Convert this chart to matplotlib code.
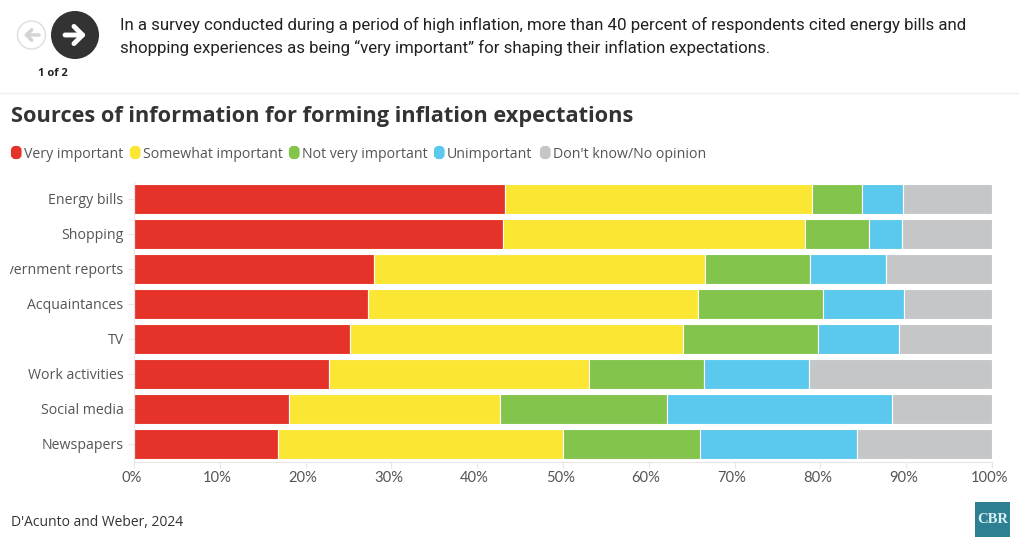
import matplotlib.pyplot as plt
from matplotlib.patches import Circle, FancyBboxPatch, Rectangle
from matplotlib.transforms import Bbox, IdentityTransform, TransformedBbox, ScaledTranslation
import numpy as np

plt.rcParams['font.family'] = ['Open Sans', 'DejaVu Sans']

categories = ['Energy bills', 'Shopping', 'Government reports', 'Acquaintances',
              'TV', 'Work activities', 'Social media', 'Newspapers']
very = [43.2, 43.0, 28.0, 27.3, 25.2, 22.7, 18.1, 16.8]
somewhat = [35.8, 35.2, 38.6, 38.4, 38.8, 30.3, 24.6, 33.2]
not_very = [5.8, 7.5, 12.2, 14.6, 15.7, 13.4, 19.4, 16.0]
unimportant = [4.8, 3.8, 8.8, 9.4, 9.5, 12.3, 26.2, 18.3]
no_opinion = [10.4, 10.5, 12.4, 10.3, 10.8, 21.3, 11.7, 15.7]

series_names = ['Very important', 'Somewhat important', 'Not very important',
                'Unimportant', "Don't know/No opinion"]
colors = ['#e63329', '#fbe733', '#82c44c', '#5bc8ed', '#c5c6c8']
series = [very, somewhat, not_very, unimportant, no_opinion]

fig = plt.figure(figsize=(10.2, 5.5), dpi=100)

# page furniture, drawn in pixel coordinates
bg = fig.add_axes([0, 0, 1, 1])
bg.set_xlim(0, 1020)
bg.set_ylim(550, 0)
bg.axis('off')

bg.add_patch(Circle((31.5, 35), 14, fc='white', ec='#dddddd', lw=1))
bg.annotate('', xy=(24, 35), xytext=(39, 35),
            arrowprops=dict(arrowstyle='->,head_width=0.38,head_length=0.38', color='#d4d4d4', lw=2.5,
                            shrinkA=0, shrinkB=0))
bg.add_patch(Circle((75, 35), 24, fc='#333333', ec='none'))
bg.annotate('', xy=(86, 35), xytext=(65, 35),
            arrowprops=dict(arrowstyle='->,head_width=0.62,head_length=0.62', color='white', lw=3.5,
                            shrinkA=0, shrinkB=0))
bg.text(53, 74, '1 of 2', fontsize=8, fontweight='bold', color='#222222', ha='center', va='center')

bg.text(120, 25, 'In a survey conducted during a period of high inflation, more than 40 percent of respondents cited energy bills and',
        fontsize=12.15, family='Roboto', color='#222222', va='center')
bg.text(120, 48, 'shopping experiences as being “very important” for shaping their inflation expectations.',
        fontsize=12.15, family='Roboto', color='#222222', va='center')
bg.plot([0, 1020], [92.5, 92.5], color='#eeeeee', lw=1)

bg.text(11, 116.5, 'Sources of information for forming inflation expectations',
        fontsize=15.65, fontweight='bold', color='#333333', va='center')

swatch_x = [11, 130, 289, 434, 540]
for x, name, c in zip(swatch_x, series_names, colors):
    bg.add_patch(FancyBboxPatch((x + 2, 148), 6.5, 9, boxstyle='round,pad=0,rounding_size=2.5',
                                mutation_aspect=1, fc=c, ec=c, lw=3))
    bg.text(x + 13, 154, name, fontsize=10.2, color='#555555', va='center')

bg.text(11, 522, "D'Acunto and Weber, 2024", fontsize=10, color='#333333', va='center')
bg.add_patch(Rectangle((975, 502), 35, 35, fc='#2f7f93', ec='none'))
bg.text(992.5, 519.5, 'CBR', fontsize=10.5, fontweight='bold', family='Liberation Serif',
        color='#d5f1f7', ha='center', va='center')

# the chart itself
ax = fig.add_axes([134 / 1020, 1 - 461.5 / 550, 858 / 1020, 280 / 550])
ax.patch.set_alpha(0)
y = np.arange(len(categories))
left = np.zeros(len(categories))
for vals, name, c in zip(series, series_names, colors):
    ax.barh(y, vals, left=left, height=0.83, color=c, edgecolor='white', linewidth=0.8, label=name)
    left += np.array(vals)

ax.set_xlim(0, 100)
ax.set_ylim(len(categories) - 0.5, -0.5)
ax.set_yticks(y)
ax.set_yticklabels(categories, fontsize=10.2, color='#555555')
ax.set_xticks(np.arange(0, 101, 10))
ax.set_xticklabels([f'{v}%' for v in range(0, 101, 10)], fontsize=10.6, color='#555555',
                   family='Lato')
ax.tick_params(axis='x', length=4, color='#e6e6e6', pad=3)
ax.tick_params(axis='y', length=4, color='#e6e6e6', pad=3.5)
for s in ['top', 'right']:
    ax.spines[s].set_visible(False)
for s in ['left', 'bottom']:
    ax.spines[s].set_color('#e6e6e6')

# x labels sit a little left of their ticks
shift = ScaledTranslation(-2 / 72, 0, fig.dpi_scale_trans)
for t in ax.get_xticklabels():
    t.set_transform(t.get_transform() + shift)

# long y label is cut off at the left edge like the original
clip = TransformedBbox(Bbox([[10, 0], [1020, 550]]), IdentityTransform())
up = ScaledTranslation(0, 0.7 / 72, fig.dpi_scale_trans)
for t in ax.get_yticklabels():
    t.set_transform(t.get_transform() + up)
    t.set_clip_box(clip)
    t.set_clip_on(True)

fig.savefig('out.png', dpi=100)
